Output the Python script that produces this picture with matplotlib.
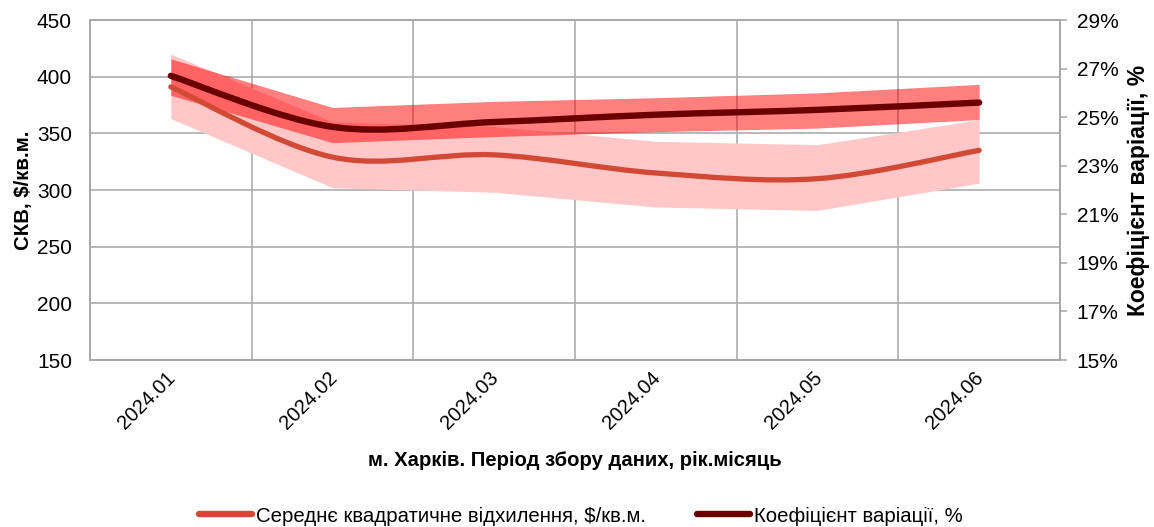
import matplotlib
matplotlib.use("Agg")
import matplotlib.pyplot as plt
import numpy as np
from matplotlib.path import Path
from matplotlib.patches import PathPatch
from matplotlib.lines import Line2D
from matplotlib.ticker import FuncFormatter
from matplotlib.transforms import ScaledTranslation

plt.rcParams['font.family'] = ['Liberation Sans', 'DejaVu Sans']

categories = ["2024.01", "2024.02", "2024.03", "2024.04", "2024.05", "2024.06"]
std_vals = [391, 329, 331, 315, 310, 335]
std_hi = [420, 360, 356, 343, 340, 362]
std_lo = [363, 302, 298, 285, 282, 306]
cv_vals = [26.7, 24.6, 24.8, 25.1, 25.3, 25.6]
cv_hi = [27.4, 25.4, 25.65, 25.8, 26.0, 26.35]
cv_lo = [25.9, 23.95, 24.2, 24.4, 24.55, 24.9]
left_ticks = [150, 200, 250, 300, 350, 400, 450]
right_ticks = [15, 17, 19, 21, 23, 25, 27, 29]

std_label = "Середнє квадратичне відхилення, $/кв.м."
cv_label = "Коефіцієнт варіації, %"
xlabel = "м. Харків. Період збору даних, рік.місяць"
ylabel_left = "СКВ, $/кв.м."
ylabel_right = "Коефіцієнт варіації, %"

C_STD = "#D24A35"
C_CV = "#6B0000"
C_PINK = "#FFC7C7"
C_RED = "#FF0000"
C_GRID = "#A6A6A6"


def smooth_path(xs, ys):
    xs = np.asarray(xs, float)
    ys = np.asarray(ys, float)
    P = np.column_stack([xs, ys])
    n = len(P)
    verts = [P[0]]
    codes = [Path.MOVETO]
    for i in range(n - 1):
        p0 = P[i - 1] if i > 0 else P[i]
        p1 = P[i]
        p2 = P[i + 1]
        p3 = P[i + 2] if i + 2 < n else P[i + 1]
        c1 = p1 + (p2 - p0) / 6.0
        c2 = p2 - (p3 - p1) / 6.0
        verts += [c1, c2, p2]
        codes += [Path.CURVE4] * 3
    return Path(verts, codes)


fig = plt.figure(figsize=(11.54, 5.27), dpi=100)
ax = fig.add_axes([90 / 1154, 1 - 360 / 527, (1060 - 90) / 1154, 340 / 527])
ax2 = ax.twinx()

x = np.arange(len(categories))

ax.set_xlim(-0.5, len(categories) - 0.5)
ax.set_ylim(150, 450)
ax2.set_ylim(15, 29)

# pink band (left axis)
ax.fill_between(x, std_lo, std_hi, color=C_PINK, lw=0, zorder=1)
# red band (right axis)
ax2.fill_between(x, cv_lo, cv_hi, color=C_RED, alpha=0.5, lw=0, zorder=1)

# std line drawn in ax2 layer but using left axis scale
p_std = PathPatch(smooth_path(x, std_vals), fill=False, edgecolor=C_STD, lw=3.8,
                  capstyle='round', joinstyle='round', transform=ax.transData, zorder=3)
ax2.add_patch(p_std)
p_cv = PathPatch(smooth_path(x, cv_vals), fill=False, edgecolor=C_CV, lw=4.6,
                 capstyle='round', joinstyle='round', transform=ax2.transData, zorder=4)
ax2.add_patch(p_cv)

# grid
ax.set_yticks(left_ticks)
ax.set_xticks(x)
ax.set_xticks(np.arange(-0.5, len(categories), 1.0), minor=True)
ax.grid(False)
ax.yaxis.grid(True, color=C_GRID, lw=1.1)
ax.xaxis.grid(True, which='minor', color=C_GRID, lw=1.1)
ax.set_axisbelow(True)

ax.set_xticklabels(categories, rotation=45, ha='right', rotation_mode='anchor', fontsize=14.5)
ax.tick_params(axis='x', which='both', length=0, pad=6)
offset = ScaledTranslation(-5 / 100, 0, fig.dpi_scale_trans)
for lab in ax.get_xticklabels():
    lab.set_transform(lab.get_transform() + offset)
ax.tick_params(axis='y', length=0, labelsize=15, pad=13)

ax2.set_yticks(right_ticks)
ax2.yaxis.set_major_formatter(FuncFormatter(lambda v, p: f"{v:.0f}%"))
ax2.tick_params(axis='y', length=5, color=C_GRID, width=1.1, labelsize=15, pad=7, direction='out')

for a in (ax, ax2):
    for s in a.spines.values():
        s.set_color(C_GRID)
        s.set_linewidth(1.1)

ax.set_xlabel(xlabel, fontsize=14.6, fontweight='bold', labelpad=13)
ax.set_ylabel(ylabel_left, fontsize=14.7, fontweight='bold', labelpad=3)
ax2.set_ylabel(ylabel_right, fontsize=16.5, fontweight='bold', labelpad=6)

handles = [Line2D([], [], color=C_STD, lw=4.6, solid_capstyle='round'),
           Line2D([], [], color=C_CV, lw=4.6, solid_capstyle='round')]
fig.legend(handles, [std_label, cv_label], loc='center', bbox_to_anchor=(581 / 1154, 1 - 516 / 527),
           ncol=2, frameon=False, fontsize=14.7, handlelength=2.6, handletextpad=0.2,
           columnspacing=2.5, borderpad=0, borderaxespad=0)

fig.savefig("out.png", dpi=100)
